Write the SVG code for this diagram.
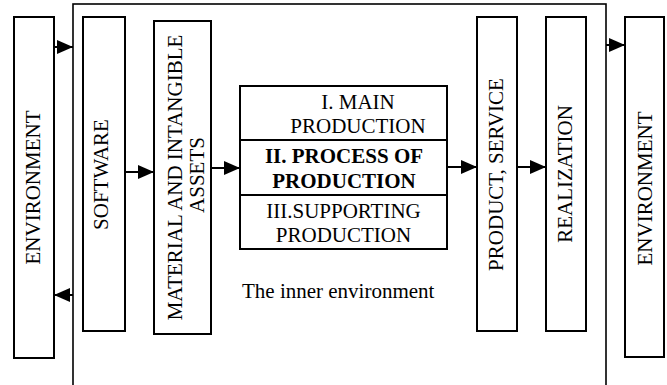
<svg xmlns="http://www.w3.org/2000/svg" width="667" height="385" viewBox="0 0 667 385">
<style>
.box{fill:#fff;stroke:#000;stroke-width:2}
.t{font-family:"Liberation Serif","Times New Roman",serif;font-size:21px;fill:#000}
.m{text-anchor:middle}
.b{font-weight:bold}
.c{stroke:#000;stroke-width:2;fill:none}
</style>
<defs>
<marker id="ah" markerUnits="userSpaceOnUse" markerWidth="16" markerHeight="14" refX="16" refY="7" orient="auto">
<path d="M0,0 L16,7 L0,14 z" fill="#000"/>
</marker>
</defs>
<rect id="inner" x="73" y="4" width="533" height="400" fill="none" stroke="#000" stroke-width="1.6"/>
<g id="env-left">
<rect class="box" x="14" y="17" width="40" height="341"/>
<text class="t m" transform="translate(40,187.5) rotate(-90)">ENVIRONMENT</text>
</g>
<g id="software">
<rect class="box" x="83" y="17" width="42" height="314"/>
<text class="t m" transform="translate(108,174.5) rotate(-90)">SOFTWARE</text>
</g>
<g id="assets">
<rect class="box" x="154" y="21" width="57" height="313"/>
<text class="t m" transform="translate(182,177.5) rotate(-90)">MATERIAL AND INTANGIBLE</text>
<text class="t m" transform="translate(203.5,175) rotate(-90)">ASSETS</text>
</g>
<g id="production">
<rect class="box" x="240" y="86" width="207" height="163"/>
<line class="c" x1="240" y1="140" x2="447" y2="140"/>
<line class="c" x1="240" y1="195" x2="447" y2="195"/>
<text class="t m" x="358" y="109">I. MAIN</text>
<text class="t m" x="358" y="133">PRODUCTION</text>
<text class="t m b" x="344" y="163">II. PROCESS OF</text>
<text class="t m b" x="344" y="187.5">PRODUCTION</text>
<text class="t m" x="343.5" y="218">III.SUPPORTING</text>
<text class="t m" x="343.5" y="241.5">PRODUCTION</text>
</g>
<g id="product">
<rect class="box" x="477" y="17" width="40" height="314"/>
<text class="t m" transform="translate(503,174.5) rotate(-90)">PRODUCT, SERVICE</text>
</g>
<g id="realization">
<rect class="box" x="546" y="17" width="40" height="314"/>
<text class="t m" transform="translate(572,174) rotate(-90)">REALIZATION</text>
</g>
<g id="env-right">
<rect class="box" x="625" y="17" width="39" height="340"/>
<text class="t m" transform="translate(652,188.5) rotate(-90)">ENVIRONMENT</text>
</g>
<text id="inner-label" class="t" x="242" y="298">The inner environment</text>
<g id="connectors">
<line class="c" x1="54" y1="47" x2="73" y2="47" marker-end="url(#ah)"/>
<line class="c" x1="73" y1="295" x2="54" y2="295" marker-end="url(#ah)"/>
<line class="c" x1="125" y1="172" x2="154" y2="172" marker-end="url(#ah)"/>
<line class="c" x1="211" y1="168" x2="240" y2="168" marker-end="url(#ah)"/>
<line class="c" x1="447" y1="167" x2="477" y2="167" marker-end="url(#ah)"/>
<line class="c" x1="517" y1="167" x2="546" y2="167" marker-end="url(#ah)"/>
<line class="c" x1="606" y1="45" x2="625" y2="45" marker-end="url(#ah)"/>
</g>
</svg>
